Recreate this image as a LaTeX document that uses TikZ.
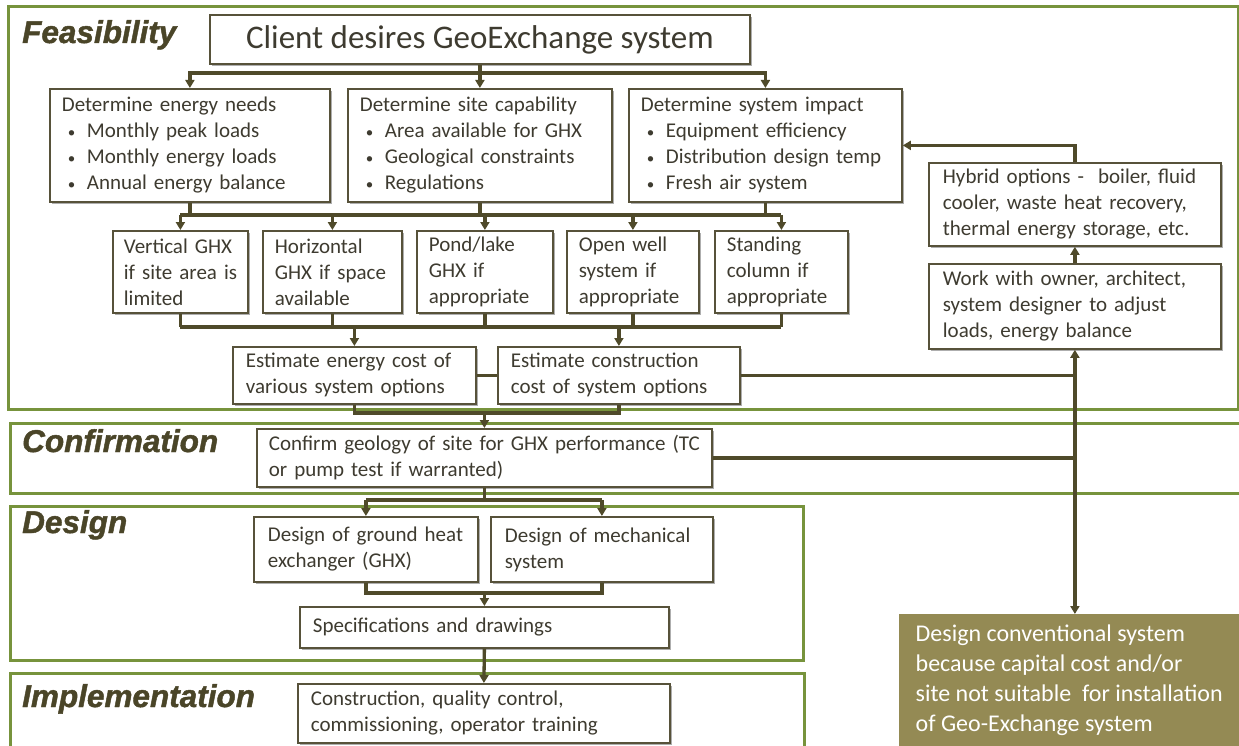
\documentclass[tikz,border=0pt]{standalone}
\usepackage{fontspec}
\setmainfont{Carlito}
\newfontfamily\labfont[BoldItalicFeatures={FakeBold=1.4}]{Liberation Sans}
\usetikzlibrary{arrows.meta,shadows}
\definecolor{boxline}{HTML}{57523A}
\definecolor{conn}{HTML}{4F4A2A}
\definecolor{panelc}{HTML}{77933C}
\definecolor{txt}{HTML}{3E3B30}
\definecolor{labc}{HTML}{4A4528}
\definecolor{olivefill}{HTML}{948A54}
\newcommand{\bl}{\hspace*{6pt}\makebox[19pt][l]{\fontsize{15}{15}\selectfont •}}
\begin{document}
\begin{tikzpicture}[x=1pt,y=-1pt,
  box/.style={draw=boxline, line width=1.8pt, fill=white, anchor=north west,
    inner xsep=12pt, inner ysep=0pt, align=left, text=txt,
    font=\fontsize{21}{26}\selectfont,
    drop shadow={shadow xshift=2.5pt, shadow yshift=-2.5pt, fill=black!45, opacity=.7}},
  lab/.style={anchor=base west, inner sep=0pt, text=labc,
    font=\labfont\bfseries\itshape\fontsize{31.5}{36}\selectfont},
  panel/.style={draw=panelc, line width=3pt},
  cline/.style={draw=conn, line width=3.3pt},
  arr/.style={cline, -{Triangle[length=8pt,width=9pt]}},
  darr/.style={cline, {Triangle[length=8pt,width=9pt]}-{Triangle[length=8pt,width=9pt]}}]
\useasboundingbox (0,0) rectangle (1239,746);
\fill[white] (0,0) rectangle (1239,746);

% phase panels
\draw[panel] (8,7) rectangle (1238,409);
\draw[panel] (1239,423) -- (10,423) -- (10,493) -- (1239,493);
\draw[panel] (10,506) rectangle (803,660);
\draw[panel] (10,746) -- (10,673) -- (804,673) -- (804,746);

\node[lab] (lf) at (22,43) {Feasibility};
\node[lab] (lc) at (22,452) {Confirmation};
\node[lab] (ld) at (22,533) {Design};
\node[lab] (li) at (22,707) {Implementation};

% boxes
\node[box, minimum width=540pt, minimum height=49pt, align=center, font=\fontsize{33}{36}\selectfont] (cl) at (209,14) {Client desires GeoExchange system};
\node[box, minimum height=113pt, text width=256pt] (en) at (49,88) {Determine energy needs\\\bl Monthly peak loads\\\bl Monthly energy loads\\\bl Annual energy balance};
\node[box, minimum height=113pt, text width=240pt] (si) at (347,88) {Determine site capability\\\bl Area available for GHX\\\bl Geological constraints\\\bl Regulations};
\node[box, minimum height=113pt, text width=249pt] (im) at (628,88) {Determine system impact\\\bl Equipment efficiency\\\bl Distribution design temp\\\bl Fresh air system};
\node[box, minimum height=83pt, inner xsep=14pt, text width=264pt] (hy) at (928,162) {Hybrid options - \ boiler, fluid\\cooler, waste heat recovery,\\thermal energy storage, etc.};
\node[box, minimum height=85pt, inner xsep=14pt, text width=264pt] (wo) at (928,263) {Work with owner, architect,\\system designer to adjust\\loads, energy balance};
\node[box, minimum height=82pt, inner xsep=11pt, text width=113pt] (v1) at (112,230) {\mbox{Vertical GHX}\\\mbox{if site area is}\\limited};
\node[box, minimum height=82pt, inner xsep=12pt, text width=115pt] (v2) at (262,230) {Horizontal\\\mbox{GHX if space}\\available};
\node[box, minimum height=82pt, inner xsep=12pt, text width=112pt] (v3) at (416,230) {Pond/lake\\GHX if\\appropriate};
\node[box, minimum height=82pt, inner xsep=12pt, text width=108pt] (v4) at (566,230) {Open well\\system if\\appropriate};
\node[box, minimum height=82pt, inner xsep=12pt, text width=109pt] (v5) at (714,230) {Standing\\column if\\appropriate};
\node[box, minimum height=57pt, inner xsep=13pt, text width=217pt] (e1) at (232,346) {Estimate energy cost of\\various system options};
\node[box, minimum height=57pt, inner xsep=13pt, text width=216pt] (e2) at (497,346) {Estimate construction\\cost of system options};
\node[box, minimum height=58pt, inner xsep=12pt, text width=431pt] (cf) at (256,428) {\mbox{Confirm geology of site for GHX performance (TC}\\or pump test if warranted)};
\node[box, minimum height=65pt, inner xsep=14pt, text width=196pt] (dg) at (253,516) {Design of ground heat\\exchanger (GHX)};
\node[box, minimum height=65pt, inner xsep=14pt, text width=194pt] (dm) at (490,516) {Design of mechanical\\system};
\node[box, minimum height=41pt, inner xsep=13pt, text width=343pt] (sp) at (299,606) {Specifications and drawings};
\node[box, minimum height=59pt, inner xsep=13pt, text width=346pt] (co) at (297,683) {Construction, quality control,\\commissioning, operator training};
\node[anchor=north west, fill=olivefill, text=white, minimum width=340pt, minimum height=132pt, inner sep=0pt, align=left, font=\fontsize{24}{30}\selectfont] (dc) at (899,614) {Design conventional system\\because capital cost and/or\\site not suitable \ for installation\\of Geo-Exchange system};

% bus coordinates
\coordinate (b1) at (0,73);
\coordinate (b2) at (0,215);
\coordinate (b3) at (0,327);
\coordinate (b4) at (0,413);
\coordinate (b5) at (0,500);
\coordinate (b6) at (0,593);

% client -> three determine boxes
\draw[cline] (cl.south) -- (cl.south |- b1);
\draw[arr] (cl.south |- b1) -| (en.north);
\draw[arr] (cl.south |- b1) -| (im.north);
\draw[arr] (cl.south |- b1) -- (si.north);

% determine boxes -> GHX options
\draw[cline] (en.south) -- (en.south |- b2);
\draw[cline] (si.south) -- (si.south |- b2);
\draw[cline] (im.south) -- (im.south |- b2);
\draw[cline] (v1.north |- b2) -- (v5.north |- b2);
\draw[arr] (v1.north |- b2) -- (v1.north);
\draw[arr] (v2.north |- b2) -- (v2.north);
\draw[arr] (v3.north |- b2) -- (v3.north);
\draw[arr] (v4.north |- b2) -- (v4.north);
\draw[arr] (v5.north |- b2) -- (v5.north);

% GHX options -> estimates
\draw[cline] (v1.south) -- (v1.south |- b3);
\draw[cline] (v2.south) -- (v2.south |- b3);
\draw[cline] (v3.south) -- (v3.south |- b3);
\draw[cline] (v4.south) -- (v4.south |- b3);
\draw[cline] (v5.south) -- (v5.south |- b3);
\draw[cline] (v1.south |- b3) -- (v5.south |- b3);
\draw[arr] (e1.north |- b3) -- (e1.north);
\draw[arr] (e2.north |- b3) -- (e2.north);
\draw[cline] (e1.east) -- (e2.west);

% estimates -> confirm
\draw[cline] (e1.south) -- (e1.south |- b4) -- (e2.south |- b4) -- (e2.south);
\draw[arr] (cf.north |- b4) -- (cf.north);

% side paths
\draw[cline] (e2.east) -- (e2.east -| wo.south);
\draw[cline] (cf.east) -- (cf.east -| wo.south);
\draw[darr] (wo.south) -- (wo.south |- dc.north);
\draw[arr] (wo.north) -- (hy.south);
\draw[arr] (hy.north) |- (im.east);

% confirm -> design
\draw[cline] (cf.south) -- (cf.south |- b5);
\draw[cline] (dg.north |- b5) -- (dm.north |- b5);
\draw[arr] (dg.north |- b5) -- (dg.north);
\draw[arr] (dm.north |- b5) -- (dm.north);

% design -> specifications -> construction
\draw[cline] (dg.south) -- (dg.south |- b6) -- (dm.south |- b6) -- (dm.south);
\draw[arr] (sp.north |- b6) -- (sp.north);
\draw[arr] (sp.south) -- (co.north);
\end{tikzpicture}
\end{document}
